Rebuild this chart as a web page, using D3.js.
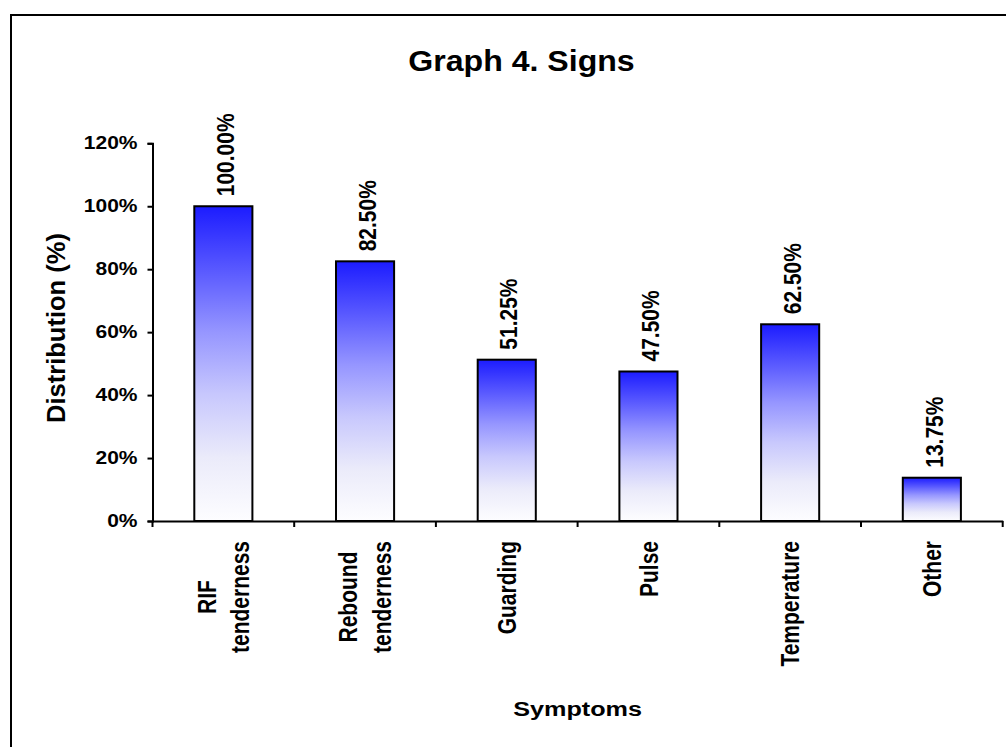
<!DOCTYPE html>
<html>
<head>
<meta charset="utf-8">
<script src="https://cdn.jsdelivr.net/npm/d3@7"></script>
<style>
  html, body { margin: 0; padding: 0; background: #ffffff; }
  svg { display: block; }
  text { font-family: "Liberation Sans", Arial, sans-serif; font-weight: bold; fill: #000; }
</style>
</head>
<body>
<svg id="chart" width="1006" height="747"></svg>
<script>
// ---- data ----
const categories = [["RIF", "tenderness"], ["Rebound", "tenderness"], ["Guarding"], ["Pulse"], ["Temperature"], ["Other"]];
const values = [1.0, 0.825, 0.5125, 0.475, 0.625, 0.1375];
const valueLabels = ["100.00%", "82.50%", "51.25%", "47.50%", "62.50%", "13.75%"];
const yTicks = [0, 0.2, 0.4, 0.6, 0.8, 1.0, 1.2];
const titleText = "Graph 4. Signs";
const xTitle = "Symptoms";
const yTitle = "Distribution (%)";

// ---- layout ----
const W = 1006, H = 747;
const plot = { left: 152.5, right: 1002.7, top: 143.3, bottom: 521 };
const svg = d3.select("#chart");

svg.append("rect").attr("x", 0).attr("y", 0).attr("width", W).attr("height", H).attr("fill", "#fff");
svg.append("rect").attr("x", 11).attr("y", 15).attr("width", 1010).attr("height", 760)
  .attr("fill", "none").attr("stroke", "#000").attr("stroke-width", 2);

const keys = categories.map(c => c.join(" "));
const x = d3.scaleBand().domain(keys).range([plot.left, plot.right]).paddingInner(0.59).paddingOuter(0.295);
const y = d3.scaleLinear().domain([0, 1.2]).range([plot.bottom, plot.top]);

// gradient
const defs = svg.append("defs");
const grad = defs.append("linearGradient").attr("id", "barGrad").attr("x1", 0).attr("y1", 0).attr("x2", 0).attr("y2", 1);
[[0, "#1c1cff"], [0.2, "#5858ff"], [0.4, "#9696ff"], [0.6, "#c8c8fd"], [0.8, "#ebebfa"], [1, "#fdfdff"]]
  .forEach(([o, c]) => grad.append("stop").attr("offset", o).attr("stop-color", c));

// bars
svg.append("g").selectAll("rect").data(values).join("rect")
  .attr("x", (d, i) => x(keys[i]))
  .attr("y", d => y(d))
  .attr("width", x.bandwidth())
  .attr("height", d => y(0) - y(d))
  .attr("fill", "url(#barGrad)")
  .attr("stroke", "#000").attr("stroke-width", 2);

// y axis
const yAxis = d3.axisLeft(y).tickValues(yTicks).tickSize(5).tickFormat("");
const gy = svg.append("g").attr("transform", `translate(${plot.left},0)`).call(yAxis);
gy.select(".domain").attr("stroke-width", 2);
gy.selectAll(".tick line").attr("stroke-width", 2);
svg.append("g").selectAll("text").data(yTicks).join("text")
  .attr("transform", d => `translate(${plot.left - 15},${y(d) + 5.5}) scale(1.2,1)`)
  .attr("text-anchor", "end").attr("font-size", 17.5)
  .text(d => d3.format(".0%")(d));

// x axis
const xAxis = d3.axisBottom(x).tickSize(0).tickFormat("");
const gx = svg.append("g").attr("transform", `translate(0,${plot.bottom})`).call(xAxis);
gx.select(".domain").attr("stroke-width", 2);
gx.selectAll(".tick").remove();
const gap = (x.step() - x.bandwidth()) / 2;
const bounds = keys.map(k => x(k) - gap).concat([x(keys[keys.length - 1]) + x.bandwidth() + gap]);
gx.selectAll(".bt").data(bounds).join("line").attr("class", "bt")
  .attr("x1", d => d).attr("x2", d => d).attr("y1", 0).attr("y2", 6)
  .attr("stroke", "#000").attr("stroke-width", 2);

// category labels (rotated)
const catFont = 21, lineH = 28, catTop = plot.bottom + 20;
categories.forEach((lines, i) => {
  const cx = x(keys[i]) + x.bandwidth() / 2;
  const g = svg.append("g").attr("transform", `translate(${cx},${catTop}) scale(1.2,1) rotate(-90)`);
  const texts = lines.map((t, j) => g.append("text").attr("font-size", catFont)
    .attr("y", (j - (lines.length - 1) / 2) * lineH).attr("dy", "0.36em").text(t));
  const Lmax = d3.max(texts, t => t.node().getComputedTextLength());
  texts.forEach(t => t.attr("x", -Lmax / 2).attr("text-anchor", "middle"));
});

// value labels (rotated)
svg.append("g").selectAll("text").data(values).join("text")
  .attr("transform", (d, i) => `translate(${x(keys[i]) + x.bandwidth() / 2 + 2},${y(d) - 10}) scale(1.15,1) rotate(-90)`)
  .attr("text-anchor", "start").attr("dy", "0.36em").attr("font-size", 21)
  .text((d, i) => valueLabels[i]);

// titles
svg.append("text").attr("transform", `translate(521.5,71) scale(1.07,1)`)
  .attr("text-anchor", "middle").attr("font-size", 30).text(titleText);
svg.append("text").attr("transform", `translate(${(plot.left + plot.right) / 2},716) scale(1.2,1)`)
  .attr("text-anchor", "middle").attr("font-size", 21).text(xTitle);
svg.append("text").attr("transform", `translate(65,328) rotate(-90)`)
  .attr("text-anchor", "middle").attr("font-size", 25.5).text(yTitle);
</script>
</body>
</html>
